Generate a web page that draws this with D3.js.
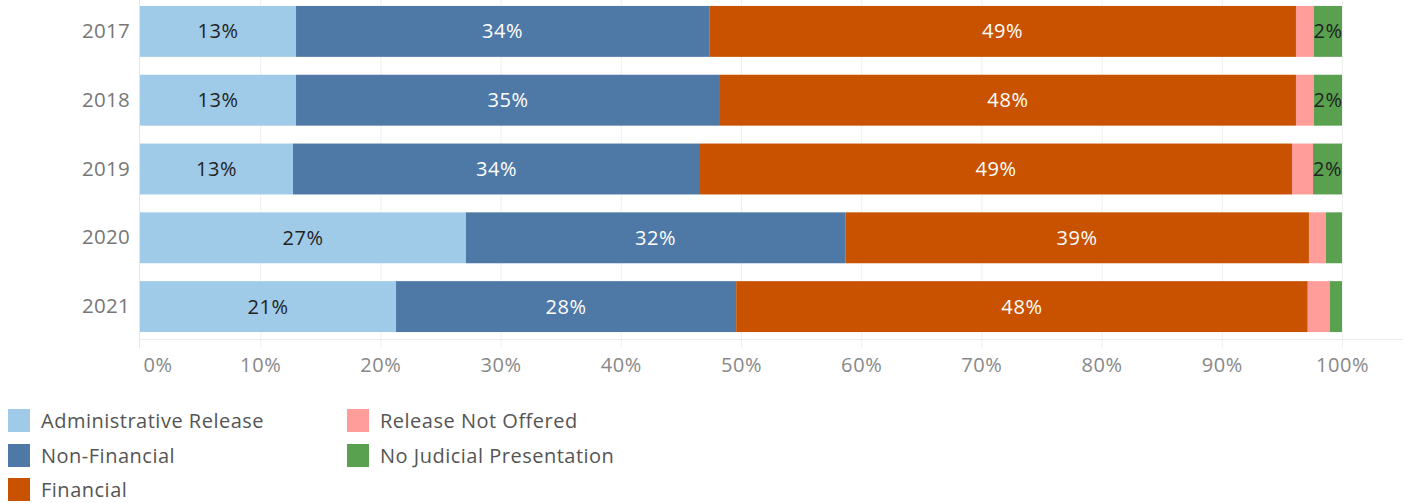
<!DOCTYPE html>
<html>
<head>
<meta charset="utf-8">
<script src="https://cdn.jsdelivr.net/npm/d3@7"></script>
<style>
  html, body { margin: 0; padding: 0; background: #fff; }
  svg { display: block; font-family: "Open Sans", sans-serif; }
</style>
</head>
<body>
<svg id="chart" width="1416" height="503"></svg>
<script>
// ---- data ----
const years = ["2017", "2018", "2019", "2020", "2021"];
const seriesNames = ["Administrative Release", "Non-Financial", "Financial", "Release Not Offered", "No Judicial Presentation"];
const adminRelease = [12.98, 12.98, 12.73, 27.12, 21.30];
const nonFinancial = [34.38, 35.27, 33.86, 31.56, 28.30];
const financial = [48.81, 47.92, 49.25, 38.57, 47.55];
const releaseNotOffered = [1.50, 1.50, 1.75, 1.42, 1.85];
const noJudicial = [2.33, 2.33, 2.41, 1.33, 1.00];
const tickValues = [0, 10, 20, 30, 40, 50, 60, 70, 80, 90, 100];

const colors = ["#a0cbe8", "#4e79a7", "#c85200", "#ff9d9a", "#59a14f"];
const labelColors = ["#222", "#fff", "#fff", "#222", "#222"];

const seriesValues = [adminRelease, nonFinancial, financial, releaseNotOffered, noJudicial];
const table = years.map((y, i) => {
  const row = { year: y };
  seriesNames.forEach((s, k) => row[s] = seriesValues[k][i]);
  return row;
});
const stacked = d3.stack().keys(seriesNames)(table);

const svg = d3.select("#chart");
const x = d3.scaleLinear().domain([0, 100]).range([140, 1342]);
const y = d3.scaleBand().domain(years).range([-3, 341]).paddingInner(0.26).paddingOuter(0.13);

// gridlines
svg.append("g").selectAll("line").data(tickValues.slice(1)).join("line")
  .attr("x1", d => x(d) + 0.5).attr("x2", d => x(d) + 0.5)
  .attr("y1", 0).attr("y2", 348)
  .attr("stroke", "#efefef").attr("stroke-width", 1);
// zero line
svg.append("line").attr("x1", x(0) - 0.5).attr("x2", x(0) - 0.5).attr("y1", 0).attr("y2", 348)
  .attr("stroke", "#e6e6e6");
// axis line
svg.append("line").attr("x1", x(0)).attr("x2", 1403).attr("y1", 339.5).attr("y2", 339.5)
  .attr("stroke", "#ececec");

// bars
const layers = svg.append("g").selectAll("g").data(stacked).join("g")
  .attr("fill", (d, i) => colors[i]);
layers.selectAll("rect").data(d => d).join("rect")
  .attr("x", d => x(d[0]))
  .attr("width", d => x(d[1]) - x(d[0]))
  .attr("y", d => y(d.data.year))
  .attr("height", y.bandwidth());

// labels
stacked.forEach((layer, k) => {
  const g = svg.append("g");
  layer.forEach(d => {
    const w = x(d[1]) - x(d[0]);
    const v = d[1] - d[0];
    const show = w > 45 || (k === 4 && v >= 2);
    if (!show) return;
    g.append("text")
      .attr("x", (x(d[0]) + x(d[1])) / 2)
      .attr("y", y(d.data.year) + y.bandwidth() / 2)
      .attr("dy", "0.35em")
      .attr("text-anchor", "middle")
      .attr("font-size", 20)
      .attr("letter-spacing", "0.6px")
      .attr("fill", labelColors[k])
      .text(Math.round(v) + "%");
  });
});

// x axis
const xAxis = d3.axisBottom(x).tickValues(tickValues).tickFormat(d => d + "%").tickSize(0).tickPadding(0);
const ax = svg.append("g").attr("transform", "translate(0,362)").call(xAxis);
ax.select(".domain").remove();
ax.selectAll("text").attr("font-size", 20).attr("letter-spacing", "0.6px").attr("fill", "#888").attr("font-family", "Open Sans, sans-serif").attr("dy", "0.5em");
ax.selectAll(".tick").filter(d => d === 0).select("text").attr("text-anchor", "start").attr("x", 3);

// y axis
const yAxis = d3.axisLeft(y).tickSize(0).tickPadding(10);
const ay = svg.append("g").attr("transform", "translate(140,0)").call(yAxis);
ay.select(".domain").remove();
ay.selectAll("text").attr("font-size", 20.5).attr("letter-spacing", "0.3px").attr("fill", "#777").attr("font-family", "Open Sans, sans-serif");

// legend
const legendPos = [[8, 409], [8, 444], [8, 478], [347, 409], [347, 444]];
const lg = svg.append("g").selectAll("g").data(seriesNames).join("g")
  .attr("transform", (d, i) => `translate(${legendPos[i][0]},${legendPos[i][1]})`);
lg.append("rect").attr("width", 22).attr("height", 23).attr("fill", (d, i) => colors[i]);
lg.append("text").attr("x", 33).attr("y", 12).attr("dy", "0.35em")
  .attr("font-size", 20).attr("letter-spacing", "0.5px").attr("fill", "#555").text(d => d);
</script>
</body>
</html>
